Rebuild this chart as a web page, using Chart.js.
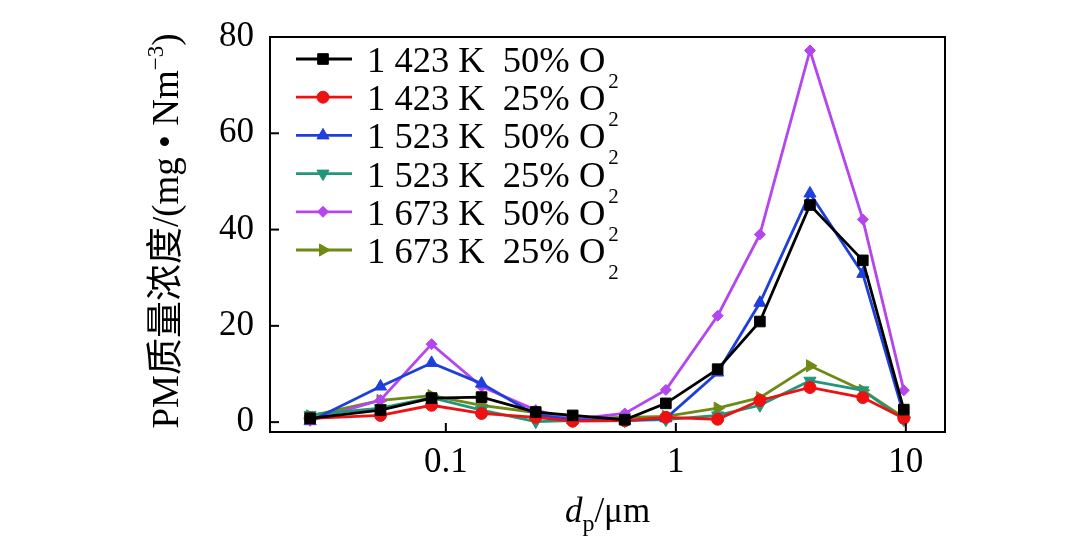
<!DOCTYPE html>
<html><head><meta charset="utf-8">
<script src="https://cdn.jsdelivr.net/npm/chart.js@4"></script>
<style>html,body{margin:0;padding:0;background:#fff}canvas{display:block}</style>
</head><body>
<canvas id="c" width="1080" height="543"></canvas>
<script>
const diameters = [0.0257, 0.052, 0.0867, 0.143, 0.246, 0.356, 0.6, 0.905, 1.52, 2.32, 3.83, 6.5, 9.8];
const k1423_50 = [0.8, 2.5, 5.0, 5.2, 2.1, 1.4, 0.5, 3.9, 11.0, 20.9, 45.1, 33.6, 2.6];
const k1423_25 = [0.8, 1.4, 3.5, 1.8, 1.0, 0.2, 0.3, 1.0, 0.6, 4.5, 7.2, 5.1, 0.8];
const k1523_50 = [0.2, 7.4, 12.3, 8.0, 1.5, 0.5, 0.3, 0.8, 10.3, 24.8, 47.5, 30.8, 1.5];
const k1523_25 = [1.5, 2.9, 5.1, 2.5, 0.1, 0.3, 0.3, 0.5, 1.4, 3.5, 8.6, 6.6, 0.5];
const k1673_50 = [0.3, 4.6, 16.2, 7.4, 2.5, 0.6, 1.8, 6.7, 22.1, 39.0, 77.2, 42.1, 6.6];
const k1673_25 = [1.3, 4.5, 5.5, 3.5, 2.0, 0.8, 1.0, 1.2, 2.9, 5.1, 11.7, 6.6, 1.0];
const seriesNames = ['1 423 K  50% O', '1 423 K  25% O', '1 523 K  50% O', '1 523 K  25% O', '1 673 K  50% O', '1 673 K  25% O'];
const yTicks = [0, 20, 40, 60, 80];
const xTicks = [0.1, 1, 10];

const SERIF = '"Liberation Serif", "Times New Roman", "Noto Sans CJK SC", serif';
function pts(arr){ return diameters.map((d,i)=>({x:d, y:arr[i]})); }
function ds(label, arr, color, style, radius, rot){
  return {label, data: pts(arr), borderColor: color, backgroundColor: color,
    pointBackgroundColor: color, pointBorderColor: color, borderWidth: 2.8,
    pointStyle: style, pointRadius: radius, pointRotation: rot||0, pointBorderWidth: 1,
    tension: 0, fill: false};
}
const datasets = [
  ds(seriesNames[0], k1423_50, '#000000', 'rect', 7.5),
  ds(seriesNames[1], k1423_25, '#ee1111', 'circle', 6),
  ds(seriesNames[2], k1523_50, '#1f3fdc', 'triangle', 7),
  ds(seriesNames[3], k1523_25, '#22967a', 'triangle', 7, 180),
  ds(seriesNames[4], k1673_50, '#b445ef', 'rectRot', 5.5),
  ds(seriesNames[5], k1673_25, '#6f8a14', 'triangle', 7, 90)
];

const decor = {
  id: 'decor',
  afterDraw(chart){
    const ctx = chart.ctx, a = chart.chartArea;
    const xs = chart.scales.x, ys = chart.scales.y;
    ctx.save();
    ctx.strokeStyle = '#000'; ctx.lineWidth = 2;
    ctx.strokeRect(a.left, a.top, a.right - a.left, a.bottom - a.top);
    ctx.lineWidth = 2;
    yTicks.forEach(v => { const y = ys.getPixelForValue(v); ctx.beginPath(); ctx.moveTo(a.left, y); ctx.lineTo(a.left + 9, y); ctx.stroke(); });
    xTicks.forEach(v => { const x = xs.getPixelForValue(v); ctx.beginPath(); ctx.moveTo(x, a.bottom); ctx.lineTo(x, a.bottom - 9); ctx.stroke(); });
    // legend
    const rowY0 = 59, rowH = 38.2;
    chart.data.datasets.forEach((d, i) => {
      const y = rowY0 + i * rowH;
      ctx.strokeStyle = d.borderColor; ctx.lineWidth = 2.8;
      ctx.beginPath(); ctx.moveTo(296, y); ctx.lineTo(352, y); ctx.stroke();
      ctx.fillStyle = d.backgroundColor; ctx.strokeStyle = d.borderColor; ctx.lineWidth = 1;
      Chart.helpers.drawPoint(ctx, {pointStyle: d.pointStyle, radius: d.pointRadius, rotation: d.pointRotation, borderWidth: 1}, 323, y);
      ctx.fillStyle = '#000';
      ctx.font = '36.5px ' + SERIF; ctx.textBaseline = 'alphabetic'; ctx.textAlign = 'left';
      const base = y + 13;
      ctx.fillText(d.label, 367, base);
      const w = ctx.measureText(d.label).width;
      ctx.font = '21px ' + SERIF;
      ctx.fillText('2', 367 + w + 3, base + 16);
    });
    // x title
    ctx.fillStyle = '#000'; ctx.textBaseline = 'alphabetic';
    const parts = [['italic 35px ' + SERIF, 'd', 0], ['24px ' + SERIF, 'p', 9], ['35px ' + SERIF, '/μm', 0]];
    let tw = 0; parts.forEach(p => { ctx.font = p[0]; tw += ctx.measureText(p[1]).width; });
    let x = (a.left + a.right) / 2 - tw / 2; const xb = 522;
    parts.forEach(p => { ctx.font = p[0]; ctx.fillText(p[1], x, xb + p[2]); x += ctx.measureText(p[1]).width; });
    // y title
    ctx.translate(178, 231); ctx.rotate(-Math.PI / 2);
    const yparts = [['37px ' + SERIF, 'PM质量浓度/(mg • Nm', 0], ['23px ' + SERIF, '−3', -15], ['37px ' + SERIF, ')', 0]];
    tw = 0; yparts.forEach(p => { ctx.font = p[0]; tw += ctx.measureText(p[1]).width; });
    x = -tw / 2;
    yparts.forEach(p => { ctx.font = p[0]; ctx.fillText(p[1], x, p[2]); x += ctx.measureText(p[1]).width; });
    ctx.restore();
  }
};

new Chart(document.getElementById('c'), {
  type: 'line',
  data: { datasets },
  options: {
    responsive: false, animation: false,
    layout: { padding: { left: 0, right: 135, top: 31, bottom: 0 } },
    plugins: { legend: { display: false }, tooltip: { enabled: false } },
    scales: {
      x: { type: 'logarithmic', min: 0.0172, max: 14.8,
        afterFit(s){ s.height = 111; },
        afterBuildTicks(s){ s.ticks = xTicks.map(v => ({value: v})); },
        grid: { display: false, drawTicks: false }, border: { display: false },
        ticks: { autoSkip: false, maxRotation: 0, padding: 10, color: '#000', font: { family: SERIF, size: 35 },
          callback: v => String(v) } },
      y: { type: 'linear', min: -2.05, max: 80,
        afterFit(s){ s.width = 270; },
        afterBuildTicks(s){ s.ticks = yTicks.map(v => ({value: v})); },
        grid: { display: false, drawTicks: false }, border: { display: false },
        ticks: { padding: 16, color: '#000', font: { family: SERIF, size: 35 }, callback: v => String(v) } }
    }
  },
  plugins: [decor]
});
</script>
</body></html>
